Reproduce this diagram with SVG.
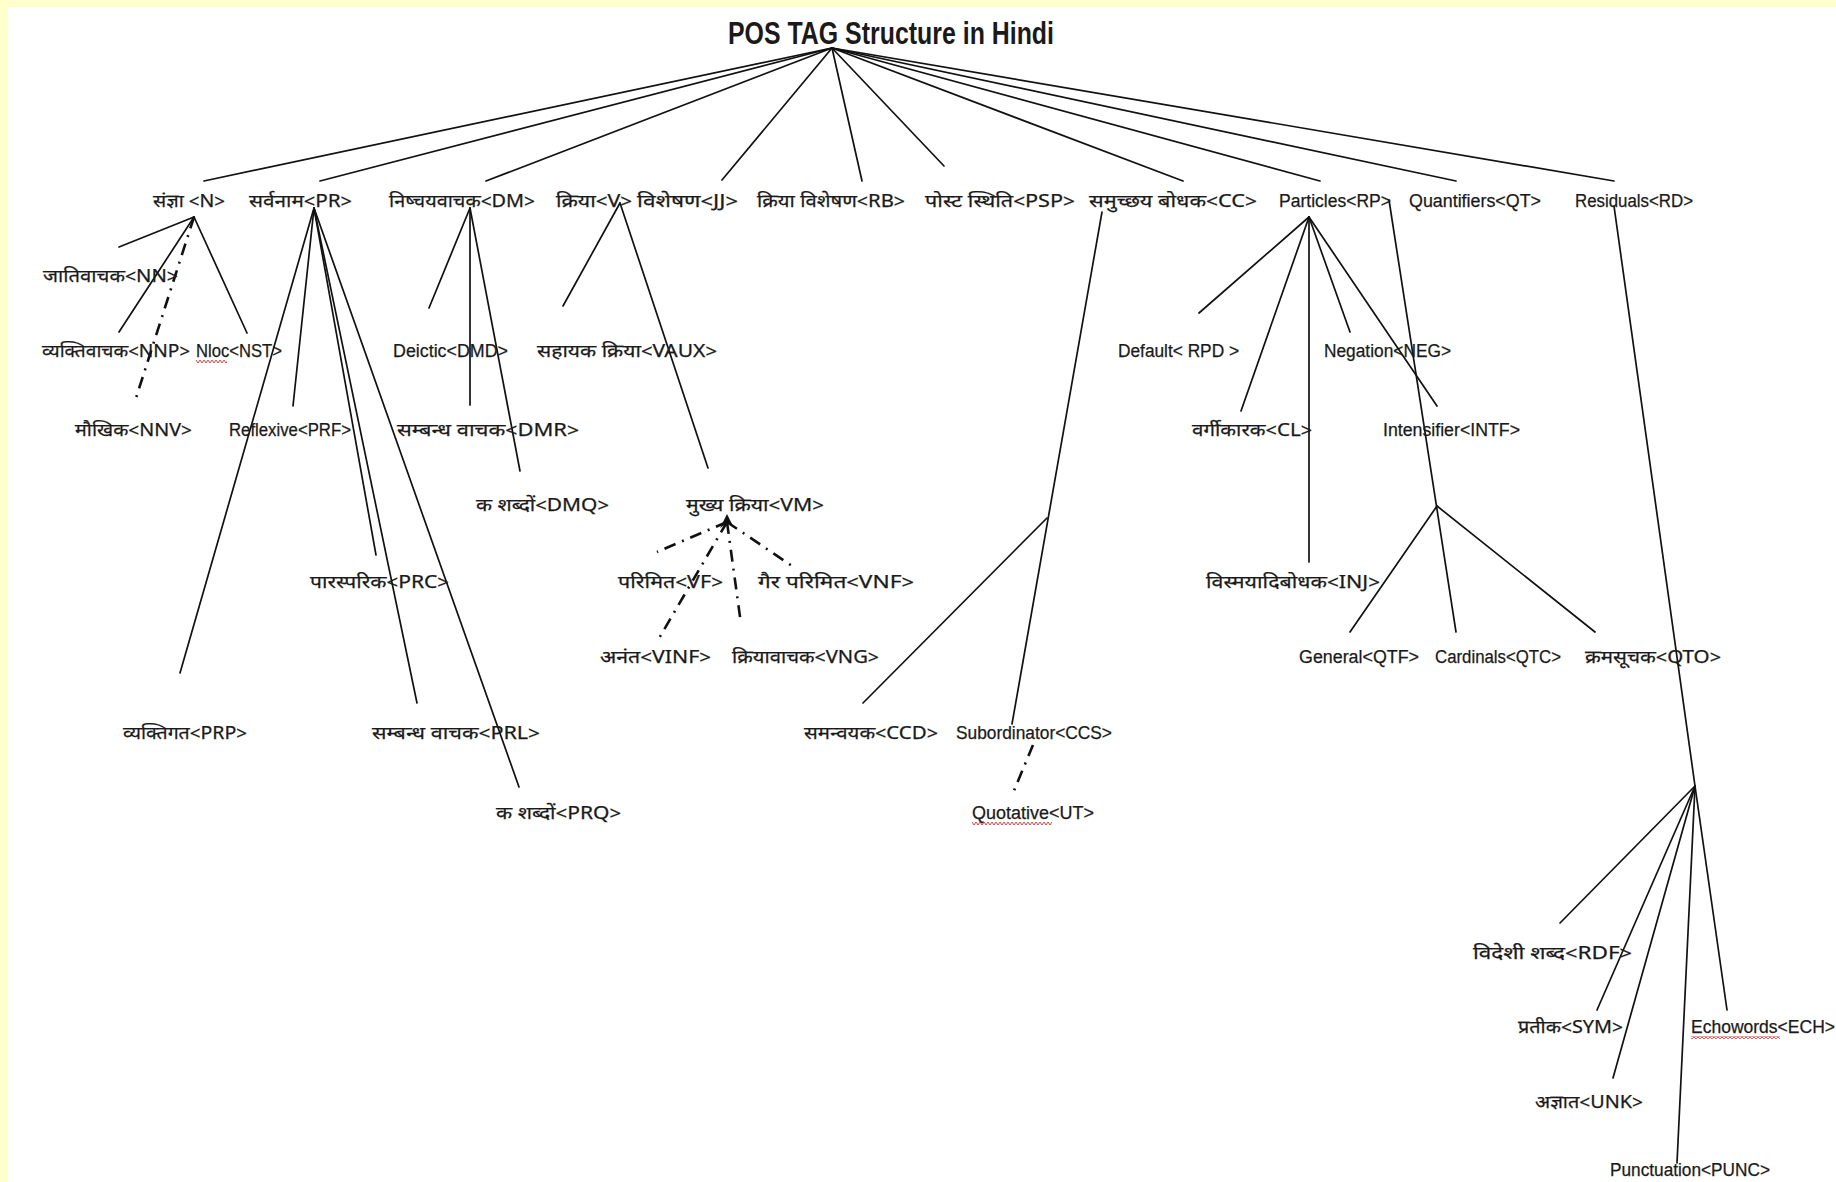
<svg xmlns="http://www.w3.org/2000/svg" width="1836" height="1182" viewBox="0 0 1836 1182">
<style>
  .bg { fill: #ffffff; }
  .band { fill: #ffffcc; }
  .c line { stroke: #111; stroke-width: 1.7; stroke-linecap: round; }
  .c .dd { stroke-width: 2.6; stroke-dasharray: 12 7 2 7; stroke-linecap: butt; }
  text { fill: #1a1a1a; stroke: #1a1a1a; stroke-width: 0.25; font-size: 18px; font-family: "Liberation Sans", "Noto Sans", "Noto Sans Devanagari", sans-serif; }
  .hi { font-family: "Noto Sans Devanagari", "Noto Sans", "Liberation Sans", sans-serif; }
  .title { font-size: 31px; font-weight: bold; stroke-width: 0; }
</style>
<defs>
  <pattern id="wavy" width="4" height="3" patternUnits="userSpaceOnUse">
    <path d="M0,0 L2,3 L4,0" fill="none" stroke="#e02a2a" stroke-width="0.9"/>
  </pattern>
</defs>
<rect class="bg" x="0" y="0" width="1836" height="1182"/>
<rect class="band" x="0" y="0" width="1836" height="7"/>
<rect class="band" x="0" y="0" width="8" height="1182"/>

<g id="connectors" class="c">
  <!-- root fan -->
  <line x1="832" y1="48" x2="204" y2="181"/>
  <line x1="832" y1="48" x2="320" y2="181"/>
  <line x1="832" y1="48" x2="486" y2="181"/>
  <line x1="832" y1="48" x2="722" y2="180"/>
  <line x1="832" y1="48" x2="862" y2="181"/>
  <line x1="832" y1="48" x2="944" y2="166"/>
  <line x1="832" y1="48" x2="1183" y2="181"/>
  <line x1="832" y1="48" x2="1320" y2="181"/>
  <line x1="832" y1="48" x2="1456" y2="181"/>
  <line x1="832" y1="48" x2="1614" y2="181"/>
  <!-- N -->
  <line x1="194" y1="217" x2="119" y2="247"/>
  <line x1="194" y1="217" x2="119" y2="332"/>
  <line x1="194" y1="217" x2="247" y2="333"/>
  <line class="dd" x1="194" y1="217" x2="136" y2="398"/>
  <!-- PR -->
  <line x1="314" y1="208" x2="180" y2="673"/>
  <line x1="314" y1="208" x2="293" y2="406"/>
  <line x1="314" y1="208" x2="376" y2="555"/>
  <line x1="314" y1="208" x2="417" y2="703"/>
  <line x1="314" y1="208" x2="519" y2="787"/>
  <!-- DM -->
  <line x1="470" y1="208" x2="429" y2="308"/>
  <line x1="470" y1="208" x2="470" y2="405"/>
  <line x1="470" y1="208" x2="520" y2="471"/>
  <!-- V -->
  <line x1="620" y1="203" x2="563" y2="306"/>
  <line x1="620" y1="203" x2="708" y2="468"/>
  <!-- VM -->
  <path d="M720,528 L727,514 L734,528 L727,523 Z" fill="#111"/>
  <line class="dd" x1="727" y1="522" x2="657" y2="552"/>
  <line class="dd" x1="727" y1="522" x2="658" y2="640"/>
  <line class="dd" x1="727" y1="522" x2="741" y2="624"/>
  <line class="dd" x1="727" y1="522" x2="795" y2="568"/>
  <!-- CC -->
  <line x1="1102" y1="212" x2="1012" y2="724"/>
  <line x1="1047" y1="518" x2="863" y2="703"/>
  <line class="dd" x1="1033" y1="745" x2="1013" y2="793"/>
  <!-- RP -->
  <line x1="1309" y1="217" x2="1199" y2="313"/>
  <line x1="1309" y1="217" x2="1241" y2="411"/>
  <line x1="1309" y1="217" x2="1309" y2="562"/>
  <line x1="1309" y1="217" x2="1350" y2="332"/>
  <line x1="1309" y1="217" x2="1437" y2="406"/>
  <!-- QT -->
  <line x1="1389" y1="200" x2="1456" y2="632"/>
  <line x1="1437" y1="506" x2="1350" y2="632"/>
  <line x1="1437" y1="506" x2="1595" y2="632"/>
  <!-- RD -->
  <line x1="1614" y1="206" x2="1695" y2="786"/>
  <line x1="1695" y1="786" x2="1560" y2="923"/>
  <line x1="1695" y1="786" x2="1597" y2="1010"/>
  <line x1="1695" y1="786" x2="1613" y2="1078"/>
  <line x1="1695" y1="786" x2="1677" y2="1163"/>
  <line x1="1695" y1="786" x2="1727" y2="1010"/>
</g>

<g id="title"><text class="title" x="728" y="44" textLength="326" lengthAdjust="spacingAndGlyphs">POS TAG Structure in Hindi</text></g>

<g id="n-N"><text class="hi" x="153" y="207" textLength="72" lengthAdjust="spacingAndGlyphs">संज्ञा &lt;N&gt;</text></g>
<g id="n-PR"><text class="hi" x="249" y="207" textLength="103" lengthAdjust="spacingAndGlyphs">सर्वनाम&lt;PR&gt;</text></g>
<g id="n-DM"><text class="hi" x="389" y="207" textLength="146" lengthAdjust="spacingAndGlyphs">निष्चयवाचक&lt;DM&gt;</text></g>
<g id="n-V"><text class="hi" x="556" y="207" textLength="76" lengthAdjust="spacingAndGlyphs">क्रिया&lt;V&gt;</text></g>
<g id="n-JJ"><text class="hi" x="637" y="207" textLength="101" lengthAdjust="spacingAndGlyphs">विशेषण&lt;JJ&gt;</text></g>
<g id="n-RB"><text class="hi" x="757" y="207" textLength="148" lengthAdjust="spacingAndGlyphs">क्रिया विशेषण&lt;RB&gt;</text></g>
<g id="n-PSP"><text class="hi" x="925" y="207" textLength="150" lengthAdjust="spacingAndGlyphs">पोस्ट  स्थिति&lt;PSP&gt;</text></g>
<g id="n-CC"><text class="hi" x="1089" y="207" textLength="168" lengthAdjust="spacingAndGlyphs">समुच्छय बोधक&lt;CC&gt;</text></g>
<g id="n-RP"><text x="1279" y="207" textLength="112" lengthAdjust="spacingAndGlyphs">Particles&lt;RP&gt;</text></g>
<g id="n-QT"><text x="1409" y="207" textLength="132" lengthAdjust="spacingAndGlyphs">Quantifiers&lt;QT&gt;</text></g>
<g id="n-RD"><text x="1575" y="207" textLength="118" lengthAdjust="spacingAndGlyphs">Residuals&lt;RD&gt;</text></g>

<g id="n-NN"><text class="hi" x="43" y="282" textLength="135" lengthAdjust="spacingAndGlyphs">जातिवाचक&lt;NN&gt;</text></g>
<g id="n-NNP"><text class="hi" x="42" y="357" textLength="148" lengthAdjust="spacingAndGlyphs">व्यक्तिवाचक&lt;NNP&gt;</text></g>
<g id="n-NST"><text x="196" y="357" textLength="86" lengthAdjust="spacingAndGlyphs">Nloc&lt;NST&gt;</text><rect x="196" y="360" width="31" height="3" fill="url(#wavy)"/></g>
<g id="n-DMD"><text x="393" y="357" textLength="115" lengthAdjust="spacingAndGlyphs">Deictic&lt;DMD&gt;</text></g>
<g id="n-VAUX"><text class="hi" x="537" y="357" textLength="180" lengthAdjust="spacingAndGlyphs">सहायक  क्रिया&lt;VAUX&gt;</text></g>
<g id="n-RPD"><text x="1118" y="357" textLength="121" lengthAdjust="spacingAndGlyphs">Default&lt; RPD &gt;</text></g>
<g id="n-NEG"><text x="1324" y="357" textLength="127" lengthAdjust="spacingAndGlyphs">Negation&lt;NEG&gt;</text></g>

<g id="n-NNV"><text class="hi" x="75" y="436" textLength="117" lengthAdjust="spacingAndGlyphs">मौखिक&lt;NNV&gt;</text></g>
<g id="n-PRF"><text x="229" y="436" textLength="122" lengthAdjust="spacingAndGlyphs">Reflexive&lt;PRF&gt;</text></g>
<g id="n-DMR"><text class="hi" x="397" y="436" textLength="182" lengthAdjust="spacingAndGlyphs">सम्बन्ध वाचक&lt;DMR&gt;</text></g>
<g id="n-CL"><text class="hi" x="1192" y="436" textLength="120" lengthAdjust="spacingAndGlyphs">वर्गीकारक&lt;CL&gt;</text></g>
<g id="n-INTF"><text x="1383" y="436" textLength="137" lengthAdjust="spacingAndGlyphs">Intensifier&lt;INTF&gt;</text></g>

<g id="n-DMQ"><text class="hi" x="476" y="511" textLength="133" lengthAdjust="spacingAndGlyphs">क  शब्दों&lt;DMQ&gt;</text></g>
<g id="n-VM"><text class="hi" x="686" y="511" textLength="138" lengthAdjust="spacingAndGlyphs">मुख्य  क्रिया&lt;VM&gt;</text></g>

<g id="n-PRC"><text class="hi" x="310" y="588" textLength="139" lengthAdjust="spacingAndGlyphs">पारस्परिक&lt;PRC&gt;</text></g>
<g id="n-VF"><text class="hi" x="618" y="588" textLength="105" lengthAdjust="spacingAndGlyphs">परिमित&lt;VF&gt;</text></g>
<g id="n-VNF"><text class="hi" x="758" y="588" textLength="156" lengthAdjust="spacingAndGlyphs">गैर  परिमित&lt;VNF&gt;</text></g>
<g id="n-INJ"><text class="hi" x="1206" y="588" textLength="174" lengthAdjust="spacingAndGlyphs">विस्मयादिबोधक&lt;INJ&gt;</text></g>

<g id="n-VINF"><text class="hi" x="600" y="663" textLength="111" lengthAdjust="spacingAndGlyphs">अनंत&lt;VINF&gt;</text></g>
<g id="n-VNG"><text class="hi" x="732" y="663" textLength="147" lengthAdjust="spacingAndGlyphs">क्रियावाचक&lt;VNG&gt;</text></g>
<g id="n-QTF"><text x="1299" y="663" textLength="120" lengthAdjust="spacingAndGlyphs">General&lt;QTF&gt;</text></g>
<g id="n-QTC"><text x="1435" y="663" textLength="126" lengthAdjust="spacingAndGlyphs">Cardinals&lt;QTC&gt;</text></g>
<g id="n-QTO"><text class="hi" x="1585" y="663" textLength="136" lengthAdjust="spacingAndGlyphs">क्रमसूचक&lt;QTO&gt;</text></g>

<g id="n-PRP"><text class="hi" x="123" y="739" textLength="124" lengthAdjust="spacingAndGlyphs">व्यक्तिगत&lt;PRP&gt;</text></g>
<g id="n-PRL"><text class="hi" x="372" y="739" textLength="168" lengthAdjust="spacingAndGlyphs">सम्बन्ध वाचक&lt;PRL&gt;</text></g>
<g id="n-CCD"><text class="hi" x="804" y="739" textLength="134" lengthAdjust="spacingAndGlyphs">समन्वयक&lt;CCD&gt;</text></g>
<g id="n-CCS"><text x="956" y="739" textLength="156" lengthAdjust="spacingAndGlyphs">Subordinator&lt;CCS&gt;</text></g>

<g id="n-PRQ"><text class="hi" x="496" y="819" textLength="125" lengthAdjust="spacingAndGlyphs">क  शब्दों&lt;PRQ&gt;</text></g>
<g id="n-UT"><text x="972" y="819" textLength="122" lengthAdjust="spacingAndGlyphs">Quotative&lt;UT&gt;</text><rect x="972" y="822" width="80" height="3" fill="url(#wavy)"/></g>

<g id="n-RDF"><text class="hi" x="1473" y="959" textLength="159" lengthAdjust="spacingAndGlyphs">विदेशी  शब्द&lt;RDF&gt;</text></g>
<g id="n-SYM"><text class="hi" x="1518" y="1033" textLength="105" lengthAdjust="spacingAndGlyphs">प्रतीक&lt;SYM&gt;</text></g>
<g id="n-ECH"><text x="1691" y="1033" textLength="144" lengthAdjust="spacingAndGlyphs">Echowords&lt;ECH&gt;</text><rect x="1691" y="1036" width="89" height="3" fill="url(#wavy)"/></g>
<g id="n-UNK"><text class="hi" x="1535" y="1108" textLength="108" lengthAdjust="spacingAndGlyphs">अज्ञात&lt;UNK&gt;</text></g>
<g id="n-PUNC"><text x="1610" y="1176" textLength="160" lengthAdjust="spacingAndGlyphs">Punctuation&lt;PUNC&gt;</text></g>
</svg>
